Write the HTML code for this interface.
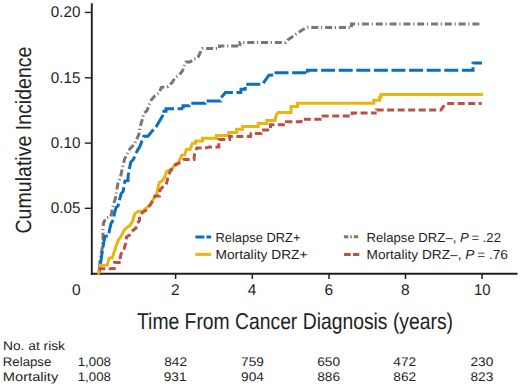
<!DOCTYPE html>
<html><head><meta charset="utf-8"><style>
html,body{margin:0;padding:0;background:#fff;}
svg{display:block;}
text{font-family:"Liberation Sans",sans-serif;fill:#231f20;text-rendering:geometricPrecision;}
</style></head><body>
<svg width="520" height="388" viewBox="0 0 520 388">
<rect width="520" height="388" fill="#fff"/>
<!-- axes -->
<g stroke="#231f20" fill="none">
<line x1="91.8" y1="3.3" x2="91.8" y2="274.8" stroke-width="1.9"/>
<line x1="90.9" y1="273.8" x2="517.5" y2="273.8" stroke-width="2"/>
<g stroke-width="1.4">
<line x1="84.8" y1="12.45" x2="92" y2="12.45"/>
<line x1="84.8" y1="77.85" x2="92" y2="77.85"/>
<line x1="84.8" y1="143.1" x2="92" y2="143.1"/>
<line x1="84.8" y1="208.3" x2="92" y2="208.3"/>
</g>
<g stroke-width="1.5">
<line x1="175.6" y1="274" x2="175.6" y2="279"/>
<line x1="252.3" y1="274" x2="252.3" y2="279"/>
<line x1="329" y1="274" x2="329" y2="279"/>
<line x1="405.5" y1="274" x2="405.5" y2="279"/>
<line x1="482" y1="274" x2="482" y2="279"/>
</g>
</g>
<!-- curves -->
<g fill="none" stroke-width="3" stroke-linejoin="miter" stroke-linecap="butt">
<polyline points="99.5,273 100,262 101.5,252 102.4,247.5 103,238 103,228 103.5,223 106,218 110.9,216.5 112.2,209.6 113.5,203.8 115.4,198.7 116.7,190.3 118,183.2 120.4,177.7 121.7,171.3 123.3,164.2 124.9,158.4 128.8,150.6 131,147.5 134,145 136.7,139.2 139,134 140.2,126.4 142,120.6 143.7,113.7 147.2,110.2 148.9,105 151.4,99.8 155,95.7 159.5,92.8 161.2,87.5 168,86.5 172.2,82.4 175,78 179.2,75 182.6,70.6 184.7,64.4 186,62 190,62 193.5,59.2 197,58.5 198.1,57.2 201.2,50.5 202.5,48.4 219.5,48.4 219.5,45.9 240,45.9" stroke="#777777" stroke-dasharray="7 2.7 1.2 2.9" stroke-dashoffset="7.965" stroke-width="3"/>
<polyline points="240,45.9 240,42.6 285.5,42.6 287.5,40 292,37 296,34 300,31.5 303,29.5 306,28 308,27.4 351.5,27.4" stroke="#777777" stroke-dasharray="7 2.7 1.2 2.9" stroke-dashoffset="3.247" stroke-width="3"/>
<polyline points="351.5,27.4 351.5,24 479.5,24" stroke="#777777" stroke-dasharray="7 2.7 1.2 2.9" stroke-dashoffset="13.7" stroke-width="3"/>
<polyline points="99,273 100,268 100.4,263.7 101.1,259.8 102.4,250.8 103.7,243 105,236.3 108.5,236 109.5,230 110.9,223.8 113.5,219.3 114.5,213 116,207.7 118,206 119.5,200 121.2,193.5 123.1,191.6 124.9,181 128,180.5 128.1,175.8 130.7,162.2 133.3,159.7 137.8,149.6 139.5,147.5 143.7,136.3 148,136.3 154.1,128.8 156.4,126.4 162.6,115.8 162.4,111.2 166,111.2 166,108.8 183,108.8" stroke="#0a6fc2" stroke-dasharray="14 3.6" stroke-dashoffset="9.2" />
<polyline points="183,108.8 183,105.8 189.3,105.8 189.8,103.2 205,103.3 205,101 220.5,101 221,97.5 223.5,95 225.4,92.5 240.8,92.5 241,89.2 245.2,89.2 245.4,84.3 262.5,84.3 268.9,75.2 274,75 274,72.8 307.4,72.8" stroke="#0a6fc2" stroke-dasharray="14 3.6" stroke-dashoffset="4.152" />
<polyline points="307.4,72.8 307.4,70.2 473,70.2 473,63.1 482,63.1" stroke="#0a6fc2" stroke-dasharray="14 3.6" stroke-dashoffset="1.3" />
<polyline points="98.6,273.3 99.4,268 100.3,265.2 107.2,265.2 109.3,257.9 112.1,257.9 113.8,253.3 116.1,246.3 118.4,239.9 121.3,235.9 124.2,230.1 127.1,227.2 129.4,226 132.3,222 134.9,213.6 137.7,211.7 143.4,210.7 146.3,207.9 149.6,205.5 152.5,200.7 154.9,196.4 156.8,194 157.5,190 159.4,182.4 162.8,180.4 164.8,176.5 166.8,171.1 169.7,170.1 173.1,167.7 174.6,164.7 178.5,162.8 180,158.9 182,154.9 184.7,154.9 186.3,149.5 190,149.5 192.4,143.3 195.5,143.3 195.5,141 202.5,141 202.5,138.3 216.4,138.3 216.4,135.5 228.8,135.5 228.8,132.4 236.6,132.4 236.6,129.3 242.6,129.3 242.6,126.6 258.2,126.6 258.2,123.6 266.8,123.6 266.8,120.6 275,120.6 276,115.6 278,112.6 291,112.6 291,106.5 297.5,106.5 297.5,103.3 373.8,103.3 373.8,100.3 379.6,100.3 379.6,97.2 381,97.2 381,94.5 481.8,94.5" stroke="#e9b50f" stroke-linecap="round"/>
<polyline points="98.3,268.8 114.3,268.6 114.6,262.6 120.6,262.5 120.2,257.3 121.9,251.5 124.2,248.6 126,242.2 126.5,237 129.4,235.3 131.2,231.8 135.8,228.3 137,223.7 139.5,220.7 139.5,216 142.5,212.5 146.3,210 150.6,204.5 154.4,197.5 155,196 159.5,196 160,190 163.3,186.5 166.3,184.4 167.7,178.5 168.7,174.5 171.2,169.6 173.1,169.2 176.1,164.3 178,163.8 182.9,159.8 184,159.5 194,159.5 194.8,151.8 197,148 205,148 209.5,147 218.8,147 218.8,139.4 229.6,139.4 229.6,136.4 250.5,136.4 251,133.6 261,133.6 261.2,130 270.5,130 270.5,124.8 286.5,124.8 286.5,121.7 301,121.7 301,119.2 320,119.2 320,116.1 352.2,116.1 352.2,113 376.7,113" stroke="#bd5045" stroke-dasharray="7 3.5" stroke-dashoffset="0"/>
<polyline points="376.7,113 376.7,109.9 441,109.9 443,107 446,104 446.5,103.5 481.7,103.5" stroke="#bd5045" stroke-dasharray="7 3.5" stroke-dashoffset="7.427"/>
</g>
<!-- legend -->
<g stroke-width="3" fill="none">
<line x1="195.4" y1="236.9" x2="211.2" y2="236.9" stroke="#0a6fc2" stroke-dasharray="9 2"/>
<line x1="195.4" y1="254.4" x2="211.2" y2="254.4" stroke="#e9b50f"/>
<line x1="343.9" y1="236.8" x2="358.5" y2="236.8" stroke="#777777" stroke-dasharray="4.4 2 1.5 2"/>
<line x1="344.1" y1="254.4" x2="359.3" y2="254.4" stroke="#bd5045" stroke-dasharray="6.6 2.3"/>
</g>
<g font-size="13">
<text x="215.5" y="241.6" textLength="85" lengthAdjust="spacingAndGlyphs">Relapse DRZ+</text>
<text x="215.5" y="258.6" textLength="92" lengthAdjust="spacingAndGlyphs">Mortality DRZ+</text>
<text x="366.5" y="241.6" textLength="134.5" lengthAdjust="spacingAndGlyphs">Relapse DRZ&#8211;, <tspan font-style="italic">P</tspan>&#8201;= .22</text>
<text x="366.5" y="258.6" textLength="141.5" lengthAdjust="spacingAndGlyphs">Mortality DRZ&#8211;, <tspan font-style="italic">P</tspan>&#8201;= .76</text>
</g>
<!-- y tick labels -->
<g font-size="15.5" text-anchor="end">
<text x="80.4" y="17.2" textLength="29.6" lengthAdjust="spacingAndGlyphs">0.20</text>
<text x="80.4" y="82.5" textLength="29.6" lengthAdjust="spacingAndGlyphs">0.15</text>
<text x="80.4" y="147.8" textLength="29.6" lengthAdjust="spacingAndGlyphs">0.10</text>
<text x="80.4" y="213" textLength="29.6" lengthAdjust="spacingAndGlyphs">0.05</text>
</g>
<!-- x tick labels -->
<g font-size="15.5" text-anchor="middle">
<text x="76.2" y="295">0</text>
<text x="175.3" y="295">2</text>
<text x="252.1" y="295">4</text>
<text x="328.8" y="295">6</text>
<text x="405.3" y="295">8</text>
<text x="482.2" y="295" textLength="16.6" lengthAdjust="spacingAndGlyphs">10</text>
</g>
<!-- axis titles -->
<text x="137" y="328.6" font-size="22.8" textLength="316" lengthAdjust="spacingAndGlyphs">Time From Cancer Diagnosis (years)</text>
<text transform="translate(30.9,233.5) rotate(-90)" x="0" y="0" font-size="22" textLength="187" lengthAdjust="spacingAndGlyphs">Cumulative Incidence</text>
<!-- risk table -->
<g font-size="12.5">
<text x="3" y="350.1" textLength="62" lengthAdjust="spacingAndGlyphs">No. at risk</text>
<text x="2.8" y="365.9" textLength="48.5" lengthAdjust="spacingAndGlyphs">Relapse</text>
<text x="2.8" y="381.1" textLength="55.5" lengthAdjust="spacingAndGlyphs">Mortality</text>
</g>
<g font-size="12.5" text-anchor="middle">
<text x="94.3" y="365.8" textLength="33.2" lengthAdjust="spacingAndGlyphs">1,008</text>
<text x="175.6" y="365.8" textLength="22.8" lengthAdjust="spacingAndGlyphs">842</text>
<text x="252.5" y="365.8" textLength="22.8" lengthAdjust="spacingAndGlyphs">759</text>
<text x="328.6" y="365.8" textLength="22.8" lengthAdjust="spacingAndGlyphs">650</text>
<text x="404.7" y="365.8" textLength="22.8" lengthAdjust="spacingAndGlyphs">472</text>
<text x="481.9" y="365.8" textLength="22.8" lengthAdjust="spacingAndGlyphs">230</text>
<text x="94.3" y="380.8" textLength="33.2" lengthAdjust="spacingAndGlyphs">1,008</text>
<text x="175.1" y="380.8" textLength="22.8" lengthAdjust="spacingAndGlyphs">931</text>
<text x="252.5" y="380.8" textLength="22.8" lengthAdjust="spacingAndGlyphs">904</text>
<text x="328.6" y="380.8" textLength="22.8" lengthAdjust="spacingAndGlyphs">886</text>
<text x="404.7" y="380.8" textLength="22.8" lengthAdjust="spacingAndGlyphs">862</text>
<text x="481.9" y="380.8" textLength="22.8" lengthAdjust="spacingAndGlyphs">823</text>
</g>
</svg>
</body></html>
